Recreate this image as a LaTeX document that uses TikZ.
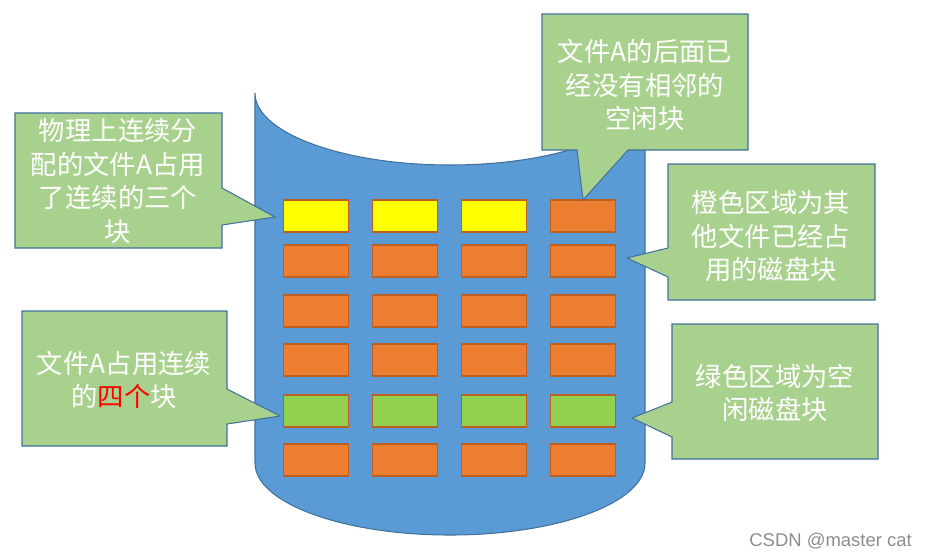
\documentclass[tikz,border=0pt]{standalone}
\usepackage{fontspec}
\setmainfont{Liberation Sans}
\newfontfamily\cjk{Noto Sans CJK SC}
\definecolor{cylfill}{HTML}{5B9BD5}
\definecolor{cylline}{HTML}{41719C}
\definecolor{callfill}{HTML}{A9D18E}
\definecolor{blkorange}{HTML}{ED7D31}
\definecolor{blkyellow}{HTML}{FFFF00}
\definecolor{blkgreen}{HTML}{92D050}
\definecolor{blkline}{HTML}{BE5F22}
\begin{document}
\begin{tikzpicture}[x=0.02cm,y=-0.02cm,
  cyl/.style={fill=cylfill,draw=cylline,line width=0.6pt},
  blk/.style={draw=blkline,line width=0.9pt,minimum width=1.3cm,minimum height=0.64cm,inner sep=0pt},
  callout/.style={fill=callfill,draw=cylline,line width=0.6pt},
  calltext/.style={text=white,align=center,font=\cjk\fontsize{15}{19}\selectfont,inner sep=0pt},
  wmtext/.style={text=black!45,font=\fontsize{10.5}{12}\selectfont,inner sep=0pt}]
\useasboundingbox (0,0) rectangle (928,559);
% cylinder
\draw[cyl] (255,93) -- (255,463)
  .. controls (255,502.8) and (342.3,535) .. (450,535)
  .. controls (557.7,535) and (645,502.8) .. (645,463)
  -- (645,93)
  .. controls (645,132.8) and (557.7,165) .. (450,165)
  .. controls (342.3,165) and (255,132.8) .. (255,93) -- cycle;
% blocks
\foreach \c/\x in {1/316,2/405,3/494,4/583}{
  \foreach \r/\y in {2/261,3/311,4/360,6/460}{
    \node[blk,fill=blkorange] (b-\r-\c) at (\x,\y) {};
  }
  \node[blk,fill=blkgreen] (b-5-\c) at (\x,411) {};
}
\foreach \c/\x in {1/316,2/405,3/494}{
  \node[blk,fill=blkyellow] (b-1-\c) at (\x,216) {};
}
\node[blk,fill=blkorange] (b-1-4) at (583,216) {};
% callouts
\draw[callout] (15,113) -- (222,113) -- (222,188) -- (275,217) -- (222,225) -- (222,248) -- (15,248) -- cycle;
\node[calltext] (t1) at (118,181) {物理上连续分\\配的文件A占用\\了连续的三个\\块};
\draw[callout] (542,14) -- (748,14) -- (748,150) -- (628,150) -- (583,200) -- (577,150) -- (542,150) -- cycle;
\node[calltext] (t2) at (645,85) {文件A的后面已\\经没有相邻的\\空闲块};
\draw[callout] (668,164) -- (875,164) -- (875,300) -- (668,300) -- (668,277) -- (627,258) -- (668,248) -- cycle;
\node[calltext] (t3) at (771,236) {橙色区域为其\\他文件已经占\\用的磁盘块};
\draw[callout] (22,311) -- (227,311) -- (227,389) -- (280,416) -- (227,424) -- (227,446) -- (22,446) -- cycle;
\node[calltext] (t4) at (124,380) {文件A占用连续\\的\textcolor{red}{四个}块};
\draw[callout] (672,324) -- (878,324) -- (878,459) -- (672,459) -- (672,437) -- (632,418) -- (672,402) -- cycle;
\node[calltext] (t5) at (775,393) {绿色区域为空\\闲磁盘块};
% watermark
\node[wmtext,anchor=east] (wm) at (912,541) {CSDN @master cat};
\end{tikzpicture}
\end{document}
